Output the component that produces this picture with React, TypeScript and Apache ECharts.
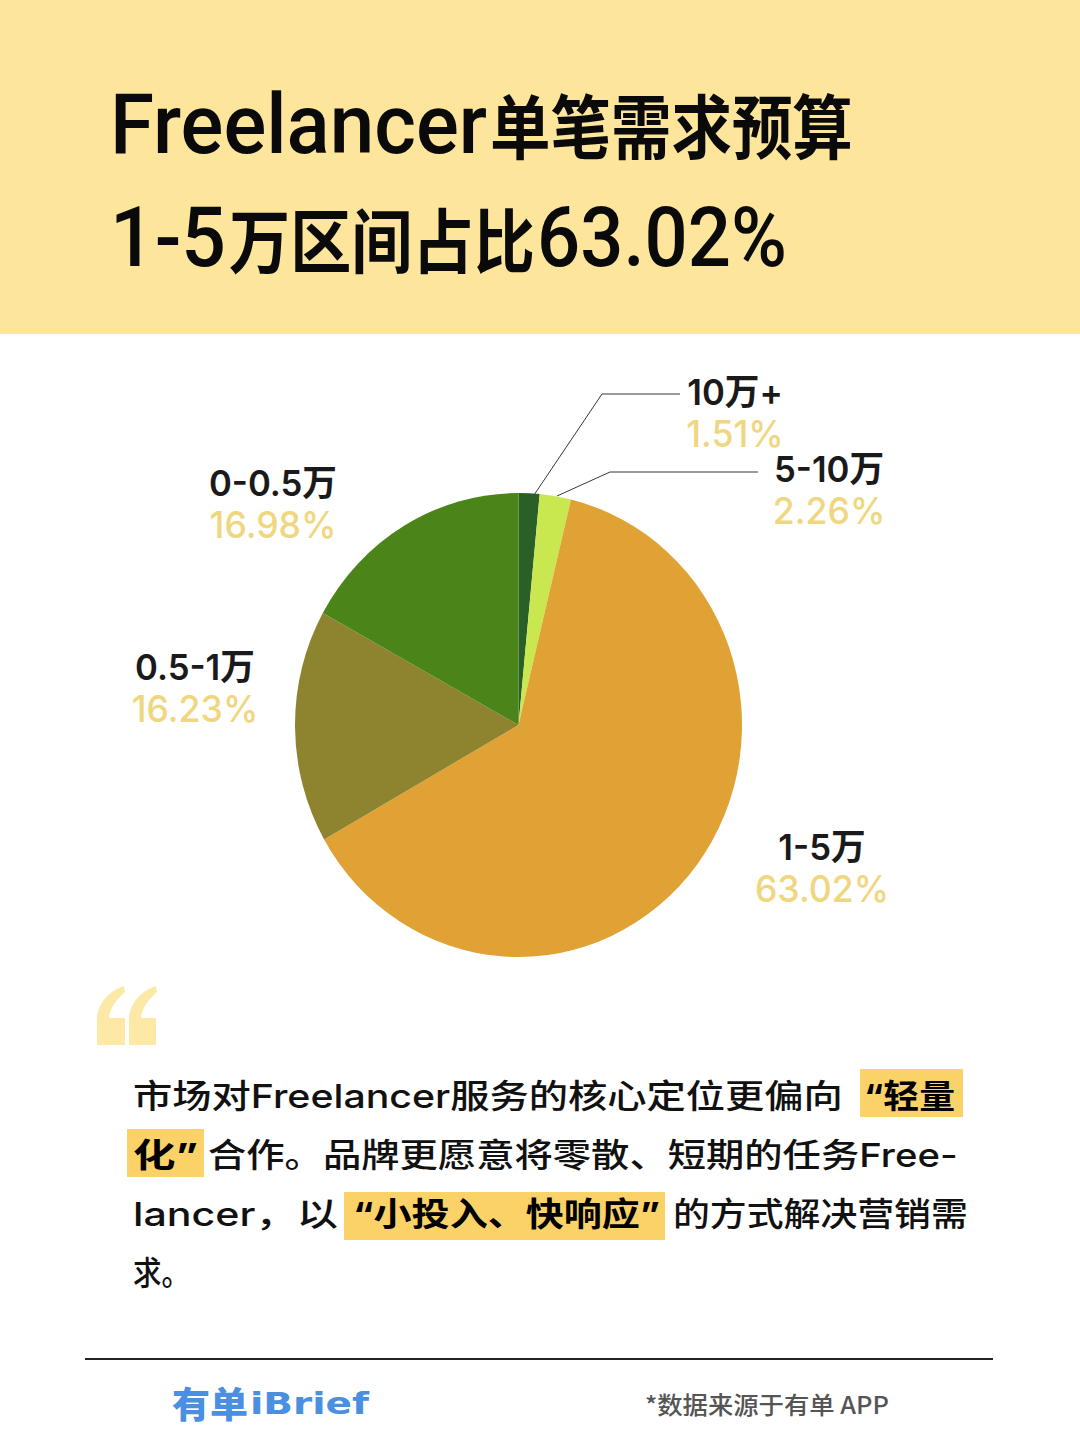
import React, { useEffect, useRef } from "react";
import * as echarts from "echarts";

const categories = ["10万+", "5-10万", "1-5万", "0.5-1万", "0-0.5万"];
const shares = [1.51, 2.26, 63.02, 16.23, 16.98];
const sliceColors = ["#2a5f28", "#c9e84f", "#e0a235", "#8e832e", "#4b8519"];
const labelCenters = [[735, 412], [829, 489], [822, 867], [195, 687], [273, 503]];
const leaderLines: (number[][] | null)[] = [
  [[534, 495], [602, 394], [680, 394]],
  [[557, 496], [610, 472], [758, 472]],
  null, null, null,
];

const CJK = '"Noto Sans CJK SC"';
const BODY = '"Inter", "Noto Sans CJK SC"';
const LABEL = '"Inter", "Noto Sans CJK SC"';

// The reference pie is slightly narrower than tall (447 x 464 px)
const PIE_SQUEEZE = 447 / 464;
const CX = 518.5;
const unsqueeze = (x: number) => CX + (x - CX) / PIE_SQUEEZE;

const QUOTE = "M97 1045 L97 1020 C97 1005 108 991 124 986 L125 992 C116 1000 110 1008 109 1018 L125 1018 L125 1045 Z " +
  "M129 1045 L129 1020 C129 1005 140 991 156 986 L157 992 C148 1000 142 1008 141 1018 L156 1018 L156 1045 Z";

const ctx = document.createElement("canvas").getContext("2d")!;
function fit(text: string, x: number, right: number, y: number, size: number, family: string, weight: any, fill: string) {
  ctx.font = `${weight} ${size}px ${family}`;
  const w = ctx.measureText(text).width || 1;
  return {
    type: "text", x, y, scaleX: (right - x) / w, z: 10,
    style: { text, fontSize: size, fontFamily: family, fontWeight: weight, fill, textAlign: "left", textVerticalAlign: "middle" },
  };
}
const rect = (x: number, y: number, width: number, height: number, fill: string) => ({
  type: "rect", shape: { x, y, width, height }, style: { fill }, z: 1,
});

export default function App() {
  const pageRef = useRef<HTMLDivElement>(null);
  const pieRef = useRef<HTMLDivElement>(null);
  useEffect(() => {
    document.body.style.margin = "0";
    echarts.graphic.registerShape("quoteMark", echarts.graphic.extendPath(QUOTE, {}) as any);
    const page = echarts.init(pageRef.current!, undefined, { renderer: "svg" });
    const pie = echarts.init(pieRef.current!, undefined, { renderer: "svg" });
    const ink = "#111111";
    const body = (t: string, a: number, b: number, y: number) => fit(t, a, b, y, 33, BODY, 500, ink);
    const mark = (t: string, a: number, b: number, y: number) => fit(t, a, b, y, 33, BODY, 700, "#000000");
    page.setOption({
      animation: false,
      backgroundColor: "#ffffff",
      graphic: [
        rect(0, 0, 1080, 334, "#fde69b"),
        fit("Freelancer", 110, 487, 124, 84, '"Roboto"', 500, "#0a0a0a"),
        fit("单笔需求预算", 490, 853, 124, 70, CJK, 700, "#0a0a0a"),
        fit("1-5", 110, 226, 238, 84, '"Roboto"', 500, "#0a0a0a"),
        fit("万区间占比", 229, 535, 238, 70, CJK, 700, "#0a0a0a"),
        fit("63.02%", 537, 787, 238, 84, '"Roboto"', 500, "#0a0a0a"),
        { type: "quoteMark", style: { fill: "#fde8a6" }, z: 2 },
        rect(860, 1069, 103, 48, "#fbd267"),
        rect(127, 1129, 77, 48, "#fbd267"),
        rect(344, 1192, 321, 48, "#fbd267"),
        body("市场对Freelancer服务的核心定位更偏向", 133, 843, 1096),
        mark("“轻量", 864, 955, 1096),
        mark("化”", 133, 198, 1155),
        body("合作。品牌更愿意将零散、短期的任务Free-", 208, 958, 1155),
        body("lancer，以", 133, 338, 1214),
        mark("“小投入、快响应”", 353, 660, 1214),
        body("的方式解决营销需", 673, 968, 1214),
        body("求。", 133, 190, 1273),
        { type: "line", shape: { x1: 85, y1: 1359, x2: 993, y2: 1359 }, style: { stroke: "#222222", lineWidth: 2 }, z: 2 },
        fit("有单", 172, 248, 1402, 36, CJK, 900, "#4a8fe0"),
        fit("iBrief", 250, 369, 1404, 30, '"DejaVu Sans"', 700, "#4a8fe0"),
        fit("*数据来源于有单 APP", 645, 889, 1403, 24, CJK, 500, "#555555"),
      ],
    });
    pie.setOption({
      animation: false,
      series: [
        {
          type: "pie",
          center: [CX, 725],
          radius: [0, 232],
          startAngle: 90,
          clockwise: true,
          avoidLabelOverlap: false,
          silent: true,
          data: categories.map((name, i) => ({
            name,
            value: shares[i],
            itemStyle: { color: sliceColors[i] },
            labelLine: { show: !!leaderLines[i] },
          })),
          label: {
            show: true,
            position: "outside",
            formatter: "{n|{b}}\n{v|{c}%}",
            rich: {
              n: { fontSize: 36, fontWeight: 600, color: "#1a1a1a", fontFamily: LABEL, lineHeight: 44, align: "center" },
              v: { fontSize: 37, fontWeight: 500, color: "#f0d67f", fontFamily: LABEL, lineHeight: 40, align: "center" },
            },
          },
          labelLine: { show: true, lineStyle: { color: "#333333", width: 1 } },
          labelLayout: (p: any) => {
            const c = labelCenters[p.dataIndex];
            const pts = leaderLines[p.dataIndex];
            return {
              x: unsqueeze(c[0]), y: c[1], align: "center", verticalAlign: "middle",
              ...(pts ? { labelLinePoints: pts.map(([x, y]) => [unsqueeze(x), y]) } : {}),
            };
          },
        },
      ],
    });
    return () => { page.dispose(); pie.dispose(); };
  }, []);
  return (
    <div style={{ position: "relative", width: 1080, height: 1443, overflow: "hidden" }}>
      <div ref={pageRef} style={{ position: "absolute", left: 0, top: 0, width: 1080, height: 1443 }} />
      <div
        ref={pieRef}
        style={{
          position: "absolute", left: 0, top: 0, width: 1080, height: 1443,
          transform: `scaleX(${PIE_SQUEEZE})`, transformOrigin: `${CX}px 725px`,
        }}
      />
    </div>
  );
}
